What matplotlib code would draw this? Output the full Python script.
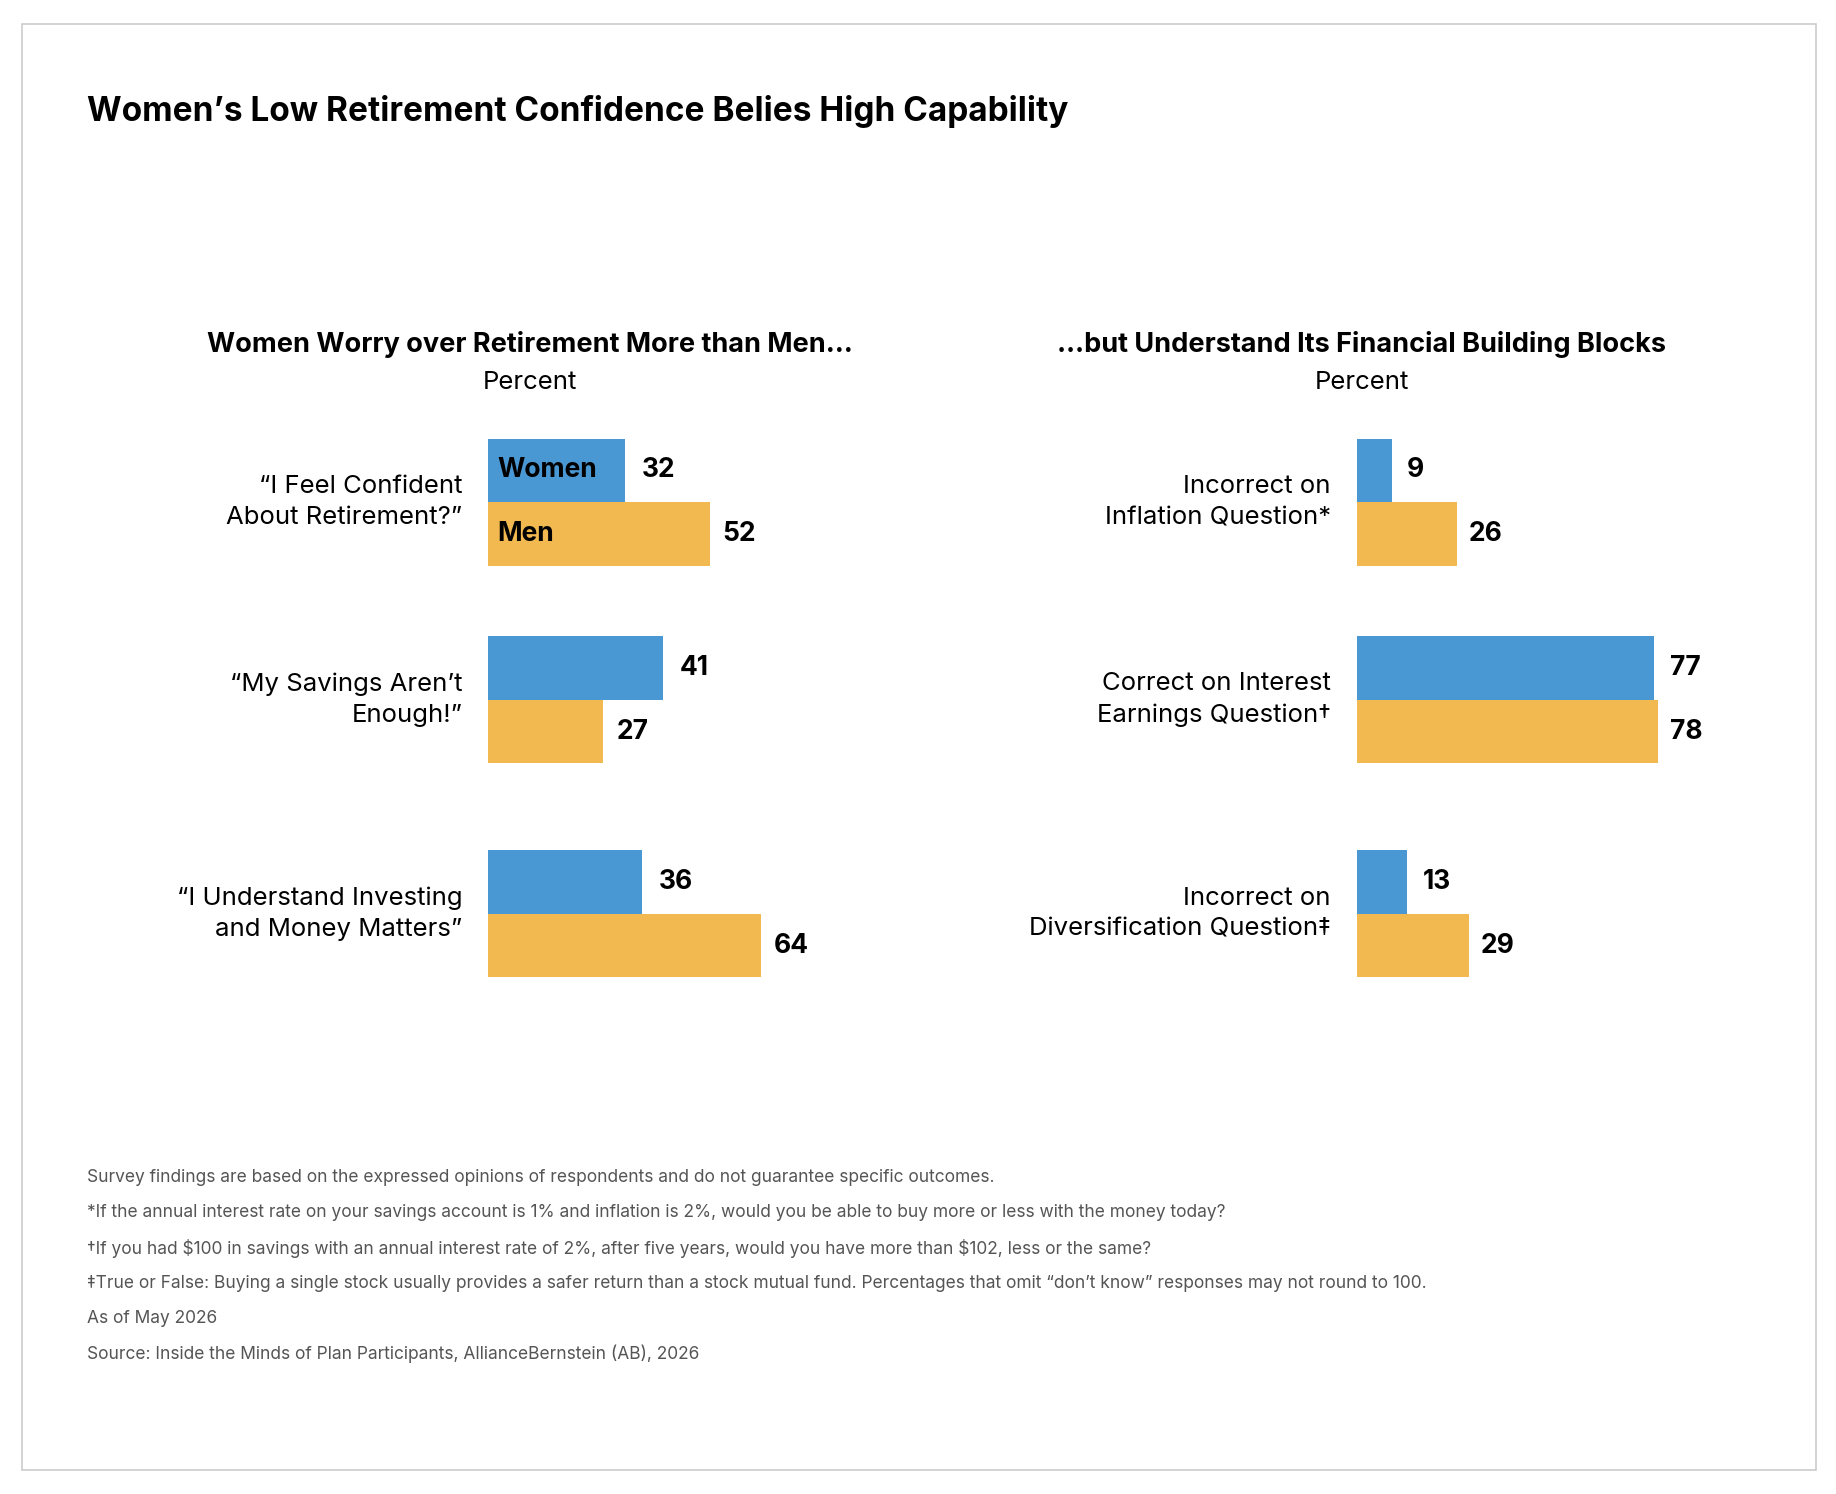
import matplotlib
matplotlib.use("Agg")
import matplotlib.pyplot as plt
from matplotlib.patches import Rectangle

plt.rcParams['font.family'] = ['Inter', 'DejaVu Sans']

left_cats = ["\u201cI Feel Confident\nAbout Retirement?\u201d", "\u201cMy Savings Aren\u2019t\nEnough!\u201d",
             "\u201cI Understand Investing\nand Money Matters\u201d"]
left_women = [32, 41, 36]
left_men = [52, 27, 64]
right_cats = ["Incorrect on\nInflation Question*", "Correct on Interest\nEarnings Question\u2020",
              "Incorrect on\nDiversification Question\u2021"]
right_women = [9, 77, 13]
right_men = [26, 78, 29]
footnotes = [
    "Survey findings are based on the expressed opinions of respondents and do not guarantee specific outcomes.",
    "*If the annual interest rate on your savings account is 1% and inflation is 2%, would you be able to buy more or less with the money today?",
    "\u2020If you had $100 in savings with an annual interest rate of 2%, after five years, would you have more than $102, less or the same?",
    "\u2021True or False: Buying a single stock usually provides a safer return than a stock mutual fund. Percentages that omit \u201cdon\u2019t know\u201d responses may not round to 100.",
    "As of May 2026",
    "Source: Inside the Minds of Plan Participants, AllianceBernstein (AB), 2026",
]
BLUE = "#4A98D3"
ORANGE = "#F2B950"
W, H = 1560, 1270
positions = [0, 3.11, 6.48]

fig = plt.figure(figsize=(18.36, 14.94), dpi=100)
fig.patches.append(Rectangle((19/W, 1-1250/H), 1524/W, 1230/H, transform=fig.transFigure,
                             fill=False, edgecolor="#cccccc", lw=1.2))
fig.text(74/W, 1-95/H, "Women\u2019s Low Retirement Confidence Belies High Capability",
         fontsize=24, fontweight='bold', va='center', ha='left')

def panel(x0, x1, cats, women, men, title, tcx, first_labels):
    ax = fig.add_axes([x0/W, 1-840/H, (x1-x0)/W, 480/H])
    ax.barh([p - 0.5 for p in positions], women, height=1, color=BLUE)
    ax.barh([p + 0.5 for p in positions], men, height=1, color=ORANGE)
    ax.set_xlim(0, 100)
    ax.set_ylim(7.65, -1.24)
    ax.axis('off')
    for p, w, m, c in zip(positions, women, men, cats):
        ax.text(w + 4, p - 0.5, str(w), fontsize=19, fontweight='bold', va='center')
        ax.text(m + 3, p + 0.5, str(m), fontsize=19, fontweight='bold', va='center')
        ax.annotate(c, xy=(0, p), xycoords=('axes fraction', 'data'), xytext=(-26, 0),
                    textcoords='offset pixels', ha='right', va='center', fontsize=18.5,
                    linespacing=1.45)
    if first_labels:
        ax.text(2, positions[0] - 0.5, "Women", fontsize=19, fontweight='bold', va='center')
        ax.text(2, positions[0] + 0.5, "Men", fontsize=19, fontweight='bold', va='center')
    fig.text(tcx/W, 1-293/H, title, fontsize=19.5, fontweight='bold', ha='center', va='center')
    fig.text(tcx/W, 1-325/H, "Percent", fontsize=18.5, ha='center', va='center')

panel(415, 777, left_cats, left_women, left_men,
      "Women Worry over Retirement More than Men\u2026", 450, True)
panel(1153, 1481, right_cats, right_women, right_men,
      "\u2026but Understand Its Financial Building Blocks", 1157, False)

for i, f in enumerate(footnotes):
    fig.text(74/W, 1-(1001 + 30*i)/H, f, fontsize=12.5, color="#555555", va='center', ha='left',
             parse_math=False)

fig.savefig("out.png", dpi=100, facecolor='white')
